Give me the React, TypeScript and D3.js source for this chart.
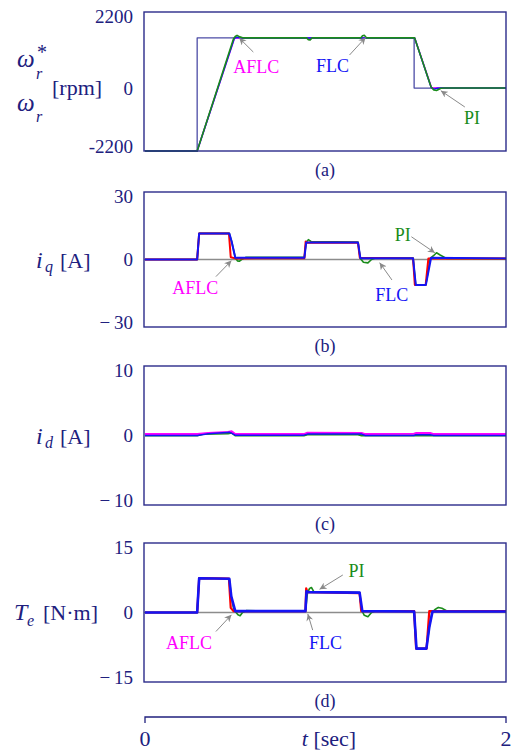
import React, { useEffect, useRef } from "react";
import * as d3 from "d3";

type Pt = [number, number];

// axis ticks
const timeTicks = [0, 2];
const speedTicks = [2200, 0, -2200];
const iqTicks = [30, 0, -30];
const idTicks = [10, 0, -10];
const teTicks = [15, 0, -15];
const captions = ["(a)", "(b)", "(c)", "(d)"];

// (a) speed [t sec, rpm]
const speedRef: Pt[] = [[0, -2200], [0.289, -2200], [0.289, 1450], [1.491, 1450], [1.491, 0], [2, 0]];
const speedPI: Pt[] = [[0, -2200], [0.289, -2200], [0.49, 1420], [0.5, 1490], [0.51, 1525], [0.525, 1480], [0.545, 1450], [0.895, 1450], [0.905, 1400], [0.915, 1390], [0.925, 1450], [1.195, 1450], [1.205, 1510], [1.215, 1525], [1.228, 1450], [1.494, 1450], [1.585, 30], [1.6, -70], [1.615, -85], [1.64, -10], [1.66, 0], [2, 0]];
const speedFLC: Pt[] = [[0, -2200], [0.289, -2200], [0.495, 1440], [0.51, 1470], [0.53, 1450], [1.494, 1450], [1.585, 20], [1.6, -40], [1.62, -10], [1.64, 0], [2, 0]];
const speedAFLC: Pt[] = [[0, -2200], [0.289, -2200], [0.496, 1450], [1.494, 1450], [1.588, 0], [2, 0]];

// (b) iq [A]
const iqPI: Pt[] = [[0, 0], [0.289, 0], [0.3, 11.6], [0.467, 11.6], [0.48, 8], [0.5, 1], [0.512, -0.6], [0.522, -0.8], [0.535, 0], [0.56, 1], [0.883, 1], [0.893, 7.8], [0.905, 8.8], [0.92, 8], [1.18, 7.8], [1.193, 0.5], [1.21, -1.2], [1.235, -1.5], [1.255, 0], [1.28, 0.8], [1.485, 0.6], [1.5, -11.3], [1.556, -11.3], [1.58, 0.5], [1.6, 1.8], [1.615, 3], [1.635, 2], [1.67, 0.5], [2, 0.4]];
const iqFLC: Pt[] = [[0, 0], [0.289, 0], [0.3, 11.6], [0.467, 11.6], [0.48, 8], [0.5, 0.8], [0.883, 0.8], [0.893, 7.6], [1.18, 7.6], [1.193, 0.6], [1.485, 0.6], [1.5, -11.3], [1.556, -11.3], [1.585, 0.8], [2, 0.5]];
const iqAFLC: Pt[] = [[0, 0], [0.289, 0], [0.3, 11.6], [0.465, 11.6], [0.475, 1], [0.5, 0.5], [0.883, 0.6], [0.89, 8], [0.9, 7.4], [1.18, 7.4], [1.19, 0.8], [1.485, 0.5], [1.495, -11.3], [1.555, -11.3], [1.57, 0.5], [2, 0.5]];

// (c) id [A]
const idPI: Pt[] = [[0, 0], [0.29, 0], [0.32, 0.2], [0.46, 0.3], [0.48, 0.4], [0.5, 0], [0.88, 0], [0.9, 0.15], [1.18, 0.15], [1.2, 0], [2, 0]];
const idFLC: Pt[] = [[0, 0], [0.29, 0], [0.35, 0.25], [0.47, 0.45], [0.5, 0.05], [0.88, 0.05], [0.9, 0.2], [1.2, 0.2], [1.22, 0], [1.49, 0], [1.5, 0.1], [1.58, 0.1], [1.6, 0], [2, 0]];
const idAFLC: Pt[] = [[0, 0.2], [0.29, 0.2], [0.35, 0.35], [0.46, 0.5], [0.48, 0.6], [0.5, 0.2], [0.88, 0.2], [0.9, 0.4], [1.2, 0.35], [1.22, 0.2], [1.49, 0.25], [1.5, 0.35], [1.58, 0.35], [1.6, 0.2], [2, 0.2]];

// (d) Te [N m]
const tePI: Pt[] = [[0, 0], [0.289, 0], [0.3, 7.4], [0.467, 7.3], [0.478, 3.5], [0.49, 1], [0.5, 0.2], [0.515, -0.5], [0.527, -0.7], [0.54, 0], [0.56, 0.4], [0.889, 0.3], [0.9, 4.2], [0.912, 5.2], [0.922, 5.4], [0.935, 4.5], [1.189, 4.3], [1.2, 0.5], [1.215, -0.6], [1.235, -0.9], [1.255, 0], [1.275, 0.3], [1.491, 0.3], [1.504, -7.8], [1.559, -7.8], [1.575, -3.2], [1.59, 0], [1.605, 0.6], [1.625, 1.1], [1.645, 0.9], [1.675, 0.3], [2, 0.2]];
const teFLC: Pt[] = [[0, 0], [0.289, 0], [0.3, 7.4], [0.467, 7.3], [0.478, 3.5], [0.5, 0.3], [0.889, 0.3], [0.895, 4.6], [0.905, 4.4], [1.189, 4.3], [1.204, 0.3], [1.491, 0.2], [1.504, -7.8], [1.559, -7.8], [1.575, -3.2], [1.593, 0.2], [2, 0.2]];
const teAFLC: Pt[] = [[0, 0], [0.289, 0], [0.3, 7.4], [0.465, 7.3], [0.475, 1], [0.49, 0.3], [0.889, 0.3], [0.893, 5.2], [0.9, 4.4], [1.189, 4.2], [1.198, 0.3], [1.491, 0.3], [1.502, -7.8], [1.56, -7.8], [1.575, 0.3], [2, 0.3]];

// annotations: label at (lt, lv), arrow from (ft, fv) to (tt, tv), data units
const notesA = [
  { text: "AFLC", who: "AFLC", lt: 0.617, lv: 608, ft: 0.6, fv: 1042, tt: 0.522, tv: 1447 },
  { text: "FLC", who: "FLC", lt: 1.039, lv: 637, ft: 1.133, fv: 955, tt: 1.222, tv: 1462 },
  { text: "PI", who: "PI", lt: 1.811, lv: -1048, ft: 1.772, fv: -663, tt: 1.639, tv: -94 },
];
const notesB = [
  { text: "AFLC", who: "AFLC", lt: 0.278, lv: -12.4, ft: 0.393, fv: -7.6, tt: 0.479, tv: -0.5 },
  { text: "FLC", who: "FLC", lt: 1.367, lv: -15.5, ft: 1.368, fv: -9.1, tt: 1.3, tv: -1.4 },
  { text: "PI", who: "PI", lt: 1.428, lv: 11.2, ft: 1.476, fv: 10.1, tt: 1.606, tv: 3 },
];
const notesD = [
  { text: "AFLC", who: "AFLC", lt: 0.244, lv: -6.5, ft: 0.393, fv: -4.1, tt: 0.479, tv: -0.5 },
  { text: "FLC", who: "FLC", lt: 1.0, lv: -6.6, ft: 0.929, fv: -3.8, tt: 0.902, tv: -0.3 },
  { text: "PI", who: "PI", lt: 1.172, lv: 9.0, ft: 1.096, fv: 8.1, tt: 0.967, tv: 5.0 },
];

const NAVY = "#20207e";
const BOX = "#2b2b8a";
const GREEN = "#1a8c1a";
const BLUE = "#1414f5";
const MAGENTA = "#ff00ff";
const RED = "#ff0000";
const GRAY = "#8a8a8a";
const FONT = "'Liberation Serif', 'Times New Roman', serif";
const labelColor: Record<string, string> = { AFLC: MAGENTA, FLC: BLUE, PI: GREEN };

function App() {
  const ref = useRef<SVGSVGElement>(null);

  useEffect(() => {
    drawChart();
  }, []);

  function drawChart() {
    const svg = d3.select(ref.current);
    svg.selectAll("*").remove();

    const x = d3.scaleLinear().domain([0, 2]).range([145, 506]);
    const left = 144, right = 506;

    svg.append("defs").append("marker")
      .attr("id", "arr")
      .attr("viewBox", "0 0 10 10")
      .attr("refX", 10).attr("refY", 5)
      .attr("markerWidth", 7).attr("markerHeight", 7)
      .attr("markerUnits", "userSpaceOnUse")
      .attr("orient", "auto")
      .append("path").attr("d", "M0,0 L10,5 L0,10 L3,5 z").attr("fill", GRAY);

    const panels = [
      {
        top: 12, h: 139, ticks: speedTicks, notes: notesA, zeroLine: false, hyphen: true,
        y: (t: number, h: number) => d3.scaleLinear().domain([-2200, 0, 2200]).range([t + h, t + h * 0.547, t]),
        series: [
          { d: speedRef, c: "#4c4ca6", w: 1.3 },
          { d: speedAFLC, c: MAGENTA, w: 1.5 },
          { d: speedFLC, c: BLUE, w: 1.5 },
          { d: speedPI, c: GREEN, w: 1.6 },
        ],
      },
      {
        top: 192, h: 135, ticks: iqTicks, notes: notesB, zeroLine: true, hyphen: false,
        y: (t: number, h: number) => d3.scaleLinear().domain([-30, 30]).range([t + h, t]),
        series: [
          { d: iqPI, c: GREEN, w: 1.6 },
          { d: iqAFLC, c: RED, w: 2 },
          { d: iqFLC, c: BLUE, w: 2 },
        ],
      },
      {
        top: 366, h: 139, ticks: idTicks, notes: [], zeroLine: false, hyphen: false,
        y: (t: number, h: number) => d3.scaleLinear().domain([-10, 10]).range([t + h, t]),
        series: [
          { d: idPI, c: GREEN, w: 2 },
          { d: idAFLC, c: MAGENTA, w: 2 },
          { d: idFLC, c: BLUE, w: 1.5 },
        ],
      },
      {
        top: 543, h: 139, ticks: teTicks, notes: notesD, zeroLine: true, hyphen: false,
        y: (t: number, h: number) => d3.scaleLinear().domain([-15, 15]).range([t + h, t]),
        series: [
          { d: tePI, c: GREEN, w: 1.6 },
          { d: teAFLC, c: RED, w: 2.2 },
          { d: teFLC, c: BLUE, w: 2.6 },
        ],
      },
    ];

    panels.forEach((p, i) => {
      const y = p.y(p.top, p.h);
      const g = svg.append("g");

      if (p.zeroLine) {
        g.append("line")
          .attr("x1", left).attr("x2", right)
          .attr("y1", y(0)).attr("y2", y(0))
          .attr("stroke", "#8c8c8c").attr("stroke-width", 1.6);
      }

      const line = d3.line<Pt>().x(d => x(d[0])).y(d => y(d[1]));
      p.series.forEach(s => {
        g.append("path")
          .attr("d", line(s.d) as string)
          .attr("fill", "none")
          .attr("stroke", s.c)
          .attr("stroke-width", s.w)
          .attr("stroke-linejoin", "round");
      });

      // box
      g.append("rect")
        .attr("x", left).attr("y", p.top)
        .attr("width", right - left).attr("height", p.h)
        .attr("fill", "none").attr("stroke", BOX).attr("stroke-width", 1.4);

      // tick labels
      p.ticks.forEach(v => {
        const txt = v < 0 ? (p.hyphen ? "-" + Math.abs(v) : "\u2212\u2009" + Math.abs(v)) : String(v);
        const nudge = v > 0 ? 4 : v < 0 ? -4.5 : 0;
        g.append("text")
          .attr("x", 133).attr("y", y(v) + nudge)
          .attr("dy", "0.35em")
          .attr("text-anchor", "end")
          .attr("font-family", FONT).attr("font-size", 19)
          .attr("fill", NAVY)
          .text(txt);
      });

      // annotations
      p.notes.forEach(n => {
        g.append("line")
          .attr("x1", x(n.ft)).attr("y1", y(n.fv))
          .attr("x2", x(n.tt)).attr("y2", y(n.tv))
          .attr("stroke", GRAY).attr("stroke-width", 1)
          .attr("marker-end", "url(#arr)");
        g.append("text")
          .attr("x", x(n.lt)).attr("y", y(n.lv))
          .attr("dy", "0.35em")
          .attr("text-anchor", "middle")
          .attr("font-family", FONT).attr("font-size", 18)
          .attr("fill", labelColor[n.who])
          .text(n.text);
      });

      // caption
      g.append("text")
        .attr("x", (left + right) / 2).attr("y", p.top + p.h + 24.5)
        .attr("text-anchor", "middle")
        .attr("font-family", FONT).attr("font-size", 18)
        .attr("fill", NAVY)
        .text(captions[i]);
    });

    // y titles, one text element each with tspans for sub/superscripts
    const title = (xx: number, yy: number) =>
      svg.append("text").attr("x", xx).attr("y", yy)
        .attr("font-family", FONT).attr("font-size", 22)
        .attr("fill", NAVY);

    const w1 = title(17, 67);
    w1.append("tspan").attr("font-style", "italic").attr("font-size", 25).text("\u03c9");
    w1.append("tspan").attr("x", 37).attr("y", 59).attr("font-size", 20).text("*");
    w1.append("tspan").attr("x", 36).attr("y", 79).attr("font-style", "italic").attr("font-size", 16).text("r");
    title(52, 95).text("[rpm]");
    const w2 = title(17, 111);
    w2.append("tspan").attr("font-style", "italic").attr("font-size", 25).text("\u03c9");
    w2.append("tspan").attr("x", 36).attr("y", 122).attr("font-style", "italic").attr("font-size", 16).text("r");

    const iq = title(36, 268);
    iq.append("tspan").attr("font-style", "italic").attr("font-size", 24).text("i");
    iq.append("tspan").attr("x", 45).attr("y", 272).attr("font-style", "italic").attr("font-size", 16).text("q");
    iq.append("tspan").attr("x", 60).attr("y", 268).text("[A]");

    const idt = title(36, 444);
    idt.append("tspan").attr("font-style", "italic").attr("font-size", 24).text("i");
    idt.append("tspan").attr("x", 45).attr("y", 448).attr("font-style", "italic").attr("font-size", 16).text("d");
    idt.append("tspan").attr("x", 60).attr("y", 444).text("[A]");

    const te = title(14, 620);
    te.append("tspan").attr("font-style", "italic").attr("font-size", 24).text("T");
    te.append("tspan").attr("x", 27).attr("y", 626).attr("font-style", "italic").attr("font-size", 16).text("e");
    te.append("tspan").attr("x", 43).attr("y", 620).text("[N\u00b7m]");

    // time axis
    const ta = svg.append("g");
    ta.append("path")
      .attr("d", `M${x(0)},723 V717 H${x(2)} V723`)
      .attr("fill", "none").attr("stroke", NAVY).attr("stroke-width", 1.3);
    timeTicks.forEach(t => {
      ta.append("text")
        .attr("x", x(t)).attr("y", 746)
        .attr("text-anchor", "middle")
        .attr("font-family", FONT).attr("font-size", 22)
        .attr("fill", NAVY).text(String(t));
    });
    const tt = ta.append("text")
      .attr("x", 329).attr("y", 746)
      .attr("text-anchor", "middle")
      .attr("font-family", FONT).attr("font-size", 22)
      .attr("fill", NAVY);
    tt.append("tspan").attr("font-style", "italic").text("t");
    tt.append("tspan").text(" [sec]");
  }

  return (
    <svg
      ref={ref}
      width={514}
      height={751}
      style={{ position: "absolute", left: 0, top: 0, background: "#fff" }}
    />
  );
}

export default App;
